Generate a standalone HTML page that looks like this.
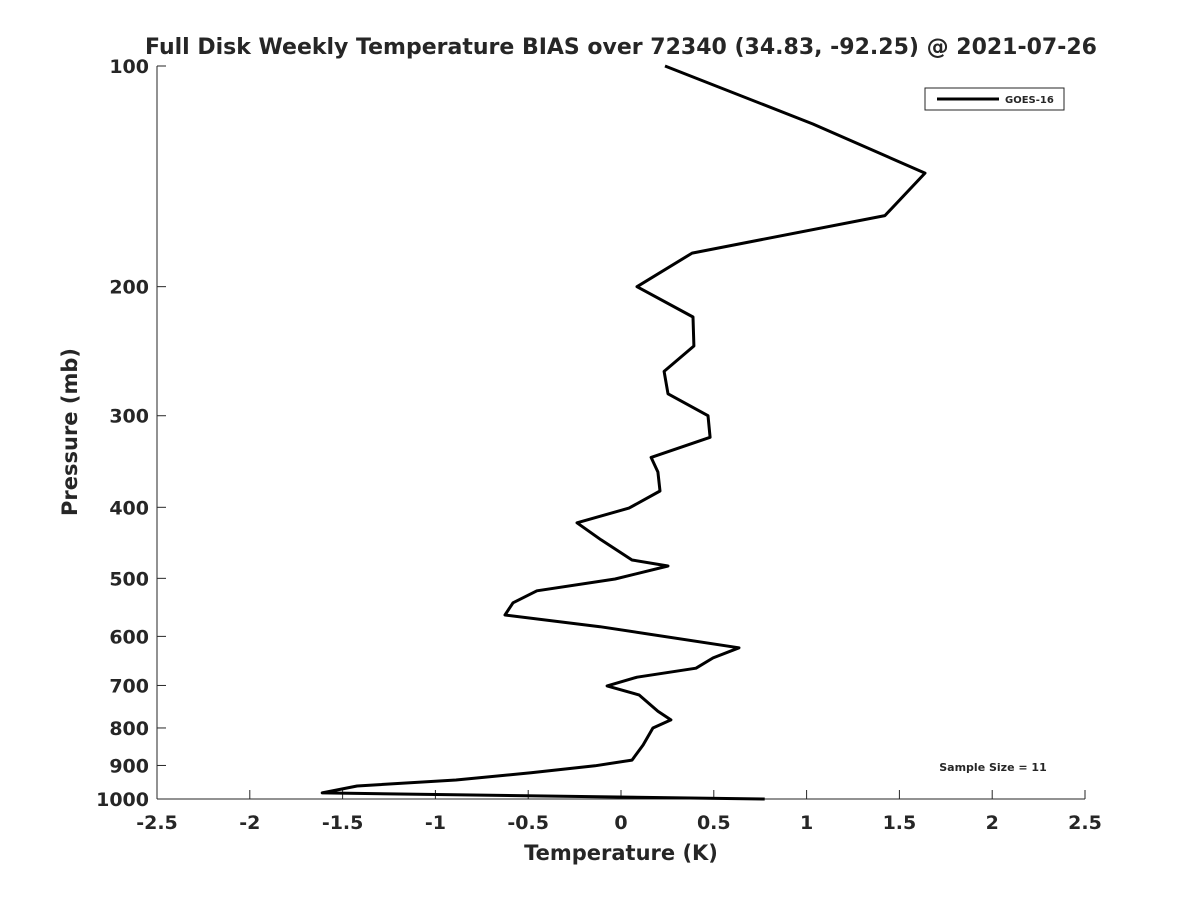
<!DOCTYPE html>
<html><head><meta charset="utf-8"><style>
body{margin:0;background:#fff;}
svg text{font-family:"DejaVu Sans","Liberation Sans",sans-serif;font-weight:bold;fill:#262626;}
</style></head><body>
<svg id="chart" width="1200" height="900" xmlns="http://www.w3.org/2000/svg">
<rect width="1200" height="900" fill="#fff"/>
<text x="621" y="54" font-size="22" text-anchor="middle" fill="#000">Full Disk Weekly Temperature BIAS over 72340 (34.83, -92.25) @ 2021-07-26</text>
<g id="axes"></g>
<path id="line" fill="none" stroke="#000" stroke-width="3" stroke-linejoin="round"/>
<g>
<rect x="925" y="88" width="139" height="22" fill="#fff" stroke="#262626" stroke-width="1"/>
<line x1="937" y1="99" x2="999" y2="99" stroke="#000" stroke-width="3"/>
<text x="1005" y="103" font-size="10" fill="#000">GOES-16</text>
</g>
<text x="993" y="771" font-size="11" text-anchor="middle" fill="#000">Sample Size = 11</text>
<text x="621" y="860" font-size="21" text-anchor="middle">Temperature (K)</text>
<text transform="translate(77,432) rotate(-90)" font-size="21" text-anchor="middle">Pressure (mb)</text>
</svg>
<script>
const xTicks=[-2.5,-2,-1.5,-1,-0.5,0,0.5,1,1.5,2,2.5];
const xTickLabels=["-2.5","-2","-1.5","-1","-0.5","0","0.5","1","1.5","2","2.5"];
const yTicks=[100,200,300,400,500,600,700,800,900,1000];
const yTickLabels=["100","200","300","400","500","600","700","800","900","1000"];
const pressures=[100,120,140,160,180,200,220,241,261,280,300,321,342,358,380,401,420,443,472,481,501,520,540,561,582,622,642,663,682,701,721,759,780,800,844,885,901,921,942,960,981,1000];
const biasValues=[0.237,1.034,1.638,1.422,0.383,0.086,0.388,0.393,0.232,0.253,0.469,0.48,0.162,0.199,0.21,0.043,-0.237,-0.108,0.059,0.253,-0.032,-0.453,-0.582,-0.625,-0.113,0.636,0.496,0.404,0.086,-0.075,0.097,0.199,0.269,0.172,0.119,0.059,-0.14,-0.485,-0.889,-1.422,-1.61,0.774];
const X0=157,X1=1085,Y0=66,Y1=799;
function xs(v){return X0+(v+2.5)/5*(X1-X0);}
function ys(p){return Y0+(Math.log10(p)-2)*(Y1-Y0);}
const NS="http://www.w3.org/2000/svg";
const ax=document.getElementById('axes');
function mk(t,a){const e=document.createElementNS(NS,t);for(const k in a)e.setAttribute(k,a[k]);return e;}
let e=mk('line',{x1:X0,y1:Y1,x2:X1,y2:Y1,stroke:'#262626','stroke-width':1});


ax.appendChild(e);
e=mk('line',{x1:X0,y1:Y0,x2:X0,y2:Y1,stroke:'#262626','stroke-width':1});


ax.appendChild(e);
xTicks.forEach((v,i)=>{
 const x=xs(v);
 let t=mk('line',{x1:x,y1:Y1,x2:x,y2:Y1-9,stroke:'#262626'});
 
 
 ax.appendChild(t);
 let l=mk('text',{x:x,y:Y1+30,'font-size':19,'text-anchor':'middle'});
 l.textContent=xTickLabels[i];
 
 
 ax.appendChild(l);
});
yTicks.forEach((p,i)=>{
 const y=ys(p);
 let t=mk('line',{x1:X0,y1:y,x2:X0+9,y2:y,stroke:'#262626'});
 
 
 ax.appendChild(t);
 let l=mk('text',{x:X0-8,y:y+7,'font-size':19,'text-anchor':'end'});
 l.textContent=yTickLabels[i];
 
 
 ax.appendChild(l);
});
document.getElementById('line').setAttribute('d',pressures.map((p,i)=>(i?'L':'M')+xs(biasValues[i]).toFixed(1)+','+ys(p).toFixed(1)).join(''));
</script>
</body></html>
